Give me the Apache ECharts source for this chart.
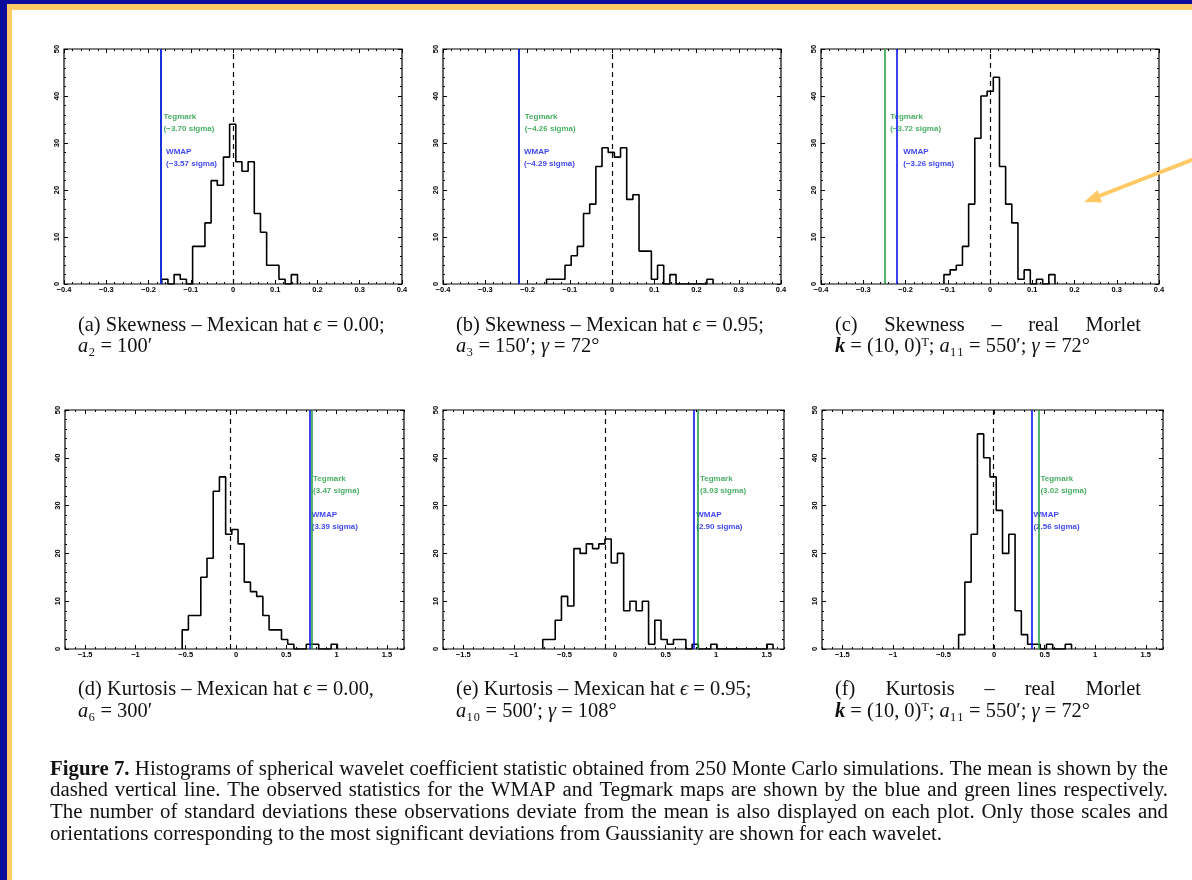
<!DOCTYPE html>
<html>
<head>
<meta charset="utf-8">
<script src="https://cdn.jsdelivr.net/npm/echarts@6/dist/echarts.min.js"></script>
<style>
html, body { margin:0; padding:0; width:1192px; height:880px; overflow:hidden; background:#0c0c9a; }
#gold { position:absolute; left:7px; top:4px; right:0; bottom:0; background:#ffcb66; }
#paper { position:absolute; left:12px; top:10px; right:0; bottom:0; background:#fff; }
#container { position:absolute; left:0; top:0; width:1192px; height:880px; }
</style>
</head>
<body>
<div id="gold"></div>
<div id="paper"></div>
<div id="container"></div>
<script>
// histogram bins: first edge, bin width, counts per bin
var binStart = [-0.1686, -0.155, -0.109, -0.535, -0.714, -0.350];
var binWidth = [0.0146, 0.0146, 0.0146, 0.0617, 0.0615, 0.0620];
var countsA = [1,0,2,1,0,8,8,13,22,21,27,34,26,24,26,15,11,4,4,1,0,2];
var countsB = [1,1,1,4,6,8,15,17,25,29,28,27,29,18,19,7,7,1,4,0,2,0,0,0,0,0,1];
var countsC = [2,3,4,8,17,31,40,41,44,25,17,13,1,3,0,1,0,2];
var countsD = [4,7,7,15,19,33,36,24,25,22,14,12,11,7,4,4,2,1,0,0,1,1,0,0,1];
var countsE = [2,2,6,11,9,21,20,22,21,22,23,18,20,8,10,8,10,1,6,2,1,2,2,0,1,0,0,1,0,0,0,0,0,0,0,0,1];
var countsF = [3,14,24,45,40,36,29,20,24,8,3,1,1,0,1,0,0,1];
var allCounts = [countsA, countsB, countsC, countsD, countsE, countsF];

// vertical lines: mean (dashed), WMAP (blue), Tegmark (green)
var meanX = [0.001, 0.0, 0.001, -0.056, -0.095, -0.010];
var wmapX = [-0.169, -0.219, -0.216, 0.733, 0.783, 0.370];
var tegmarkX = [-0.175, -0.217, -0.247, 0.746, 0.819, 0.439];
var wmapSigma = ['\u22123.57', '\u22124.29', '\u22123.26', '3.39', '2.90', '2.56'];
var tegmarkSigma = ['\u22123.70', '\u22124.26', '\u22123.72', '3.47', '3.03', '3.02'];
var tegmarkLabelY = 34.25;
var wmapLabelY = 26.75;

// axes
var xRangeTop = [-0.4, 0.4];
var xRangeBottom = [-1.7, 1.67];
var xTicksBottom = [-1.5, -1, -0.5, 0, 0.5, 1, 1.5];
var yRange = [0, 50];

// captions
var subTitles = [
  '(a) Skewness \u2013 Mexican hat {i|\u03f5} = 0.00;',
  '(b) Skewness \u2013 Mexican hat {i|\u03f5} = 0.95;',
  '(c) Skewness \u2013 real Morlet',
  '(d) Kurtosis \u2013 Mexican hat {i|\u03f5} = 0.00,',
  '(e) Kurtosis \u2013 Mexican hat {i|\u03f5} = 0.95;',
  '(f) Kurtosis \u2013 real Morlet'
];
var subParams = [
  '{i|a}\u2082 = 100\u2032',
  '{i|a}\u2083 = 150\u2032; {i|\u03b3} = 72\u00b0',
  '{bi|k} = (10, 0)\u1d40; {i|a}\u2081\u2081 = 550\u2032; {i|\u03b3} = 72\u00b0',
  '{i|a}\u2086 = 300\u2032',
  '{i|a}\u2081\u2080 = 500\u2032; {i|\u03b3} = 108\u00b0',
  '{bi|k} = (10, 0)\u1d40; {i|a}\u2081\u2081 = 550\u2032; {i|\u03b3} = 72\u00b0'
];
var subJustify = [false, false, true, false, false, true];
var captionLines = [
  'Figure 7. Histograms of spherical wavelet coefficient statistic obtained from 250 Monte Carlo simulations. The mean is shown by the',
  'dashed vertical line. The observed statistics for the WMAP and Tegmark maps are shown by the blue and green lines respectively.',
  'The number of standard deviations these observations deviate from the mean is also displayed on each plot. Only those scales and',
  'orientations corresponding to the most significant deviations from Gaussianity are shown for each wavelet.'
];

// layout
var gridRects = [
  [64, 49, 338, 235], [443, 49, 338, 235], [821, 49, 338, 235],
  [65, 410, 339, 239], [443, 410, 341, 239], [822, 410, 341, 239]
];
var BLUE = '#0b14f0', GREEN = '#1a9a3c', INK = '#111';
var SANS = 'Liberation Sans', SERIF = 'Liberation Serif';

var dom = document.getElementById('container');
var myChart = echarts.init(dom);

function fmtTick(v) {
  if (Math.abs(v) < 1e-9) return '0';
  return String(Math.round(v * 10) / 10).replace('-', '\u2212');
}

function histPoints(start, width, counts) {
  var pts = [[start, 0]];
  for (var k = 0; k < counts.length; k++) {
    pts.push([start + k * width, counts[k]], [start + (k + 1) * width, counts[k]]);
  }
  pts.push([start + counts.length * width, 0]);
  return pts;
}

var tickLabel = { color: '#000', fontSize: 7.5, fontWeight: 'bold', fontFamily: SANS, margin: 2, formatter: fmtTick };
var noLine = { show: false, onZero: false };
var tickStyle = { color: '#000', width: 1 };

var grids = [], xAxes = [], yAxes = [], series = [];

for (var i = 0; i < 6; i++) {
  var r = gridRects[i];
  var isTop = i < 3;
  grids.push({ left: r[0], top: r[1], width: r[2], height: r[3], show: true, borderColor: '#000', borderWidth: 1.2, backgroundColor: 'transparent' });

  var xr = isTop ? xRangeTop : xRangeBottom;
  ['bottom', 'top'].forEach(function (pos) {
    var ax = {
      gridIndex: i, type: 'value', position: pos, min: xr[0], max: xr[1],
      axisLine: noLine, splitLine: { show: false },
      axisTick: { inside: true, length: 4, lineStyle: tickStyle },
      axisLabel: pos === 'bottom' ? tickLabel : { show: false }
    };
    if (isTop) {
      ax.interval = 0.1;
      ax.minorTick = { show: true, splitNumber: 5, length: 2, lineStyle: tickStyle };
    } else {
      ax.axisTick.customValues = xTicksBottom;
      if (pos === 'bottom') ax.axisLabel = Object.assign({}, tickLabel, { customValues: xTicksBottom });
    }
    xAxes.push(ax);
  });

  ['left', 'right'].forEach(function (pos) {
    yAxes.push({
      gridIndex: i, type: 'value', position: pos, min: yRange[0], max: yRange[1], interval: 10,
      axisLine: noLine, splitLine: { show: false },
      axisTick: { inside: true, length: 4, lineStyle: tickStyle },
      minorTick: { show: true, splitNumber: 5, length: 2, lineStyle: tickStyle },
      axisLabel: pos === 'left' ? { color: '#000', fontSize: 7.5, fontWeight: 'bold', fontFamily: SANS, rotate: 90, margin: 3 } : { show: false }
    });
  });

  series.push({
    type: 'line', xAxisIndex: 2 * i, yAxisIndex: 2 * i,
    data: histPoints(binStart[i], binWidth[i], allCounts[i]),
    symbol: 'none', silent: true, animation: false,
    lineStyle: { color: '#000', width: 1.6 },
    markLine: {
      silent: true, symbol: ['none', 'none'], animation: false, label: { show: false },
      data: [
        { xAxis: tegmarkX[i], lineStyle: { color: GREEN, width: 1.5, type: 'solid' } },
        { xAxis: wmapX[i], lineStyle: { color: BLUE, width: 1.6, type: 'solid' } },
        { xAxis: meanX[i], lineStyle: { color: '#000', width: 1.2, type: [5, 4] } }
      ]
    }
  });

  series.push({
    type: 'scatter', xAxisIndex: 2 * i, yAxisIndex: 2 * i, silent: true, animation: false,
    symbolSize: 1, itemStyle: { color: 'rgba(0,0,0,0)' },
    label: { show: true, position: 'right', distance: isTop ? 4 : 1.5, align: 'left', fontSize: 8, fontWeight: 'bold', fontFamily: SANS, lineHeight: 12 },
    data: [
      { value: [tegmarkX[i], tegmarkLabelY], label: { formatter: 'Tegmark\n(' + tegmarkSigma[i] + ' sigma)', color: GREEN } },
      { value: [wmapX[i], wmapLabelY], label: { formatter: 'WMAP\n(' + wmapSigma[i] + ' sigma)', color: BLUE } }
    ]
  });
}

// second, overlapping grids for the minor ticks of the bottom row
for (var j = 3; j < 6; j++) {
  var rr = gridRects[j];
  var g = grids.length;
  grids.push({ left: rr[0], top: rr[1], width: rr[2], height: rr[3], show: false });
  ['bottom', 'top'].forEach(function (pos) {
    xAxes.push({
      gridIndex: g, type: 'value', position: pos, min: xRangeBottom[0], max: xRangeBottom[1], interval: 0.1,
      axisLine: noLine, splitLine: { show: false }, axisLabel: { show: false },
      axisTick: { inside: true, length: 2, lineStyle: tickStyle }
    });
  });
  yAxes.push({ gridIndex: g, type: 'value', min: yRange[0], max: yRange[1], show: false });
}

// captions (text measured so justified lines fill their width)
var ctx = document.createElement('canvas').getContext('2d');
function measure(txt, size, weight, style) {
  ctx.font = (style || 'normal') + ' ' + (weight || 'normal') + ' ' + size + 'px ' + SERIF;
  return ctx.measureText(txt).width;
}
var subSize = 20 * 307 / measure('(a) Skewness \u2013 Mexican hat \u03f5 = 0.00;', 20);
var capSize = 20 * 892 / measure(captionLines[3], 20);

function textEl(x, y, txt, size, weight) {
  return {
    type: 'text', x: x, y: y, silent: true,
    style: {
      text: txt, fontSize: size, fontFamily: SERIF, fontWeight: weight || 'normal', fill: INK,
      verticalAlign: 'middle', align: 'left',
      rich: {
        i: { fontSize: size, fontFamily: SERIF, fontStyle: 'italic', fill: INK },
        bi: { fontSize: size, fontFamily: SERIF, fontStyle: 'italic', fontWeight: 'bold', fill: INK }
      }
    }
  };
}

function justified(words, x0, x1, y, size, boldCount) {
  var widths = words.map(function (w, k) { return measure(w, size, k < boldCount ? 'bold' : 'normal'); });
  var total = widths.reduce(function (a, b) { return a + b; }, 0);
  var gap = (x1 - x0 - total) / (words.length - 1);
  var x = x0, els = [];
  words.forEach(function (w, k) {
    els.push(textEl(x, y, w, size, k < boldCount ? 'bold' : 'normal'));
    x += widths[k] + gap;
  });
  return els;
}

var graphics = [];
var capX = [78, 456, 835];
var capY = [[326, 347], [690, 712]];
for (var c = 0; c < 6; c++) {
  var cx = capX[c % 3], cy = capY[c < 3 ? 0 : 1];
  if (subJustify[c]) {
    graphics = graphics.concat(justified(subTitles[c].split(' '), cx, cx + 306, cy[0], subSize, 0));
  } else {
    graphics.push(textEl(cx, cy[0], subTitles[c], subSize));
  }
  graphics.push(textEl(cx, cy[1], subParams[c], subSize));
}
var lineY = [770, 791, 813, 835];
for (var l = 0; l < 3; l++) {
  graphics = graphics.concat(justified(captionLines[l].split(' '), 50, 1168, lineY[l], capSize, l === 0 ? 2 : 0));
}
graphics.push(textEl(50, lineY[3], captionLines[3], capSize));

// orange pointer arrow on the right
graphics.push({ type: 'line', silent: true, shape: { x1: 1194, y1: 159, x2: 1099, y2: 196 }, style: { stroke: '#ffc966', lineWidth: 4 } });
graphics.push({ type: 'polygon', silent: true, shape: { points: [[1084, 202], [1102, 202.5], [1097.5, 190]] }, style: { fill: '#ffc966' } });

option = {
  animation: false,
  backgroundColor: 'transparent',
  grid: grids,
  xAxis: xAxes,
  yAxis: yAxes,
  series: series,
  graphic: graphics
};
if (option && typeof option === 'object') {
  myChart.setOption(option, true);
}
</script>
</body>
</html>
